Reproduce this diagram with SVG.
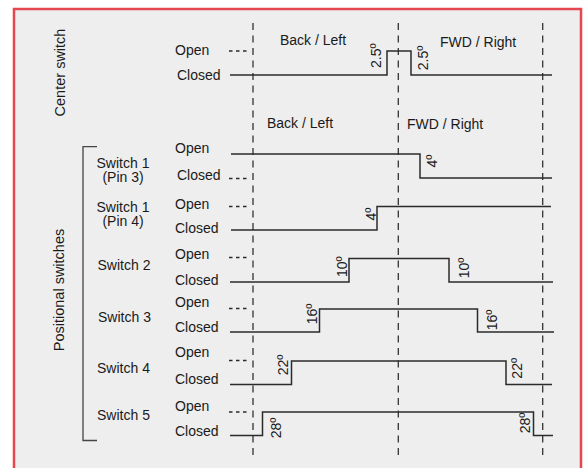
<svg xmlns="http://www.w3.org/2000/svg" width="584" height="468" viewBox="0 0 584 468">
<style>
text{font-family:"Liberation Sans",Arial,Helvetica,sans-serif;font-size:14px;fill:#1a1a1a}
.rot{text-anchor:middle}
.big{font-size:14.5px}
.sig{fill:none;stroke:#2b2b2b;stroke-width:1.5}
.short{fill:none;stroke:#2b2b2b;stroke-width:1.3;stroke-dasharray:3.5 3.5}
.guide{fill:none;stroke:#333;stroke-width:1.3;stroke-dasharray:7 5.5}
.brk{fill:none;stroke:#444;stroke-width:1.3}
</style>
<rect x="0" y="0" width="584" height="468" fill="#ffffff"/>
<rect x="14" y="9" width="567" height="470" fill="#eeeeee" stroke="#e6474e" stroke-width="2.5"/>

<g id="guides">
<line class="guide" x1="253" y1="23" x2="253" y2="456"/>
<line class="guide" x1="398.3" y1="23" x2="398.3" y2="456"/>
<line class="guide" x1="542.7" y1="23" x2="542.7" y2="456"/>
</g>

<g id="headers">
<text x="280" y="44.5">Back / Left</text>
<text x="440" y="46.5">FWD / Right</text>
<text x="267" y="127.5">Back / Left</text>
<text x="407" y="128.7">FWD / Right</text>
</g>

<g id="group-labels">
<text class="rot big" transform="translate(65,72.5) rotate(-90)">Center switch</text>
<text class="rot big" transform="translate(63.5,290) rotate(-90)">Positional switches</text>
<path class="brk" d="M97,146.7 H83 V440.5 H97"/>
</g>

<g id="connectors">
<path class="sig" d="M230,75 H387 V51 H411 V75 H552"/>
<line class="short" x1="229" y1="51" x2="250" y2="51"/>

<path class="sig" d="M231,154 H420 V178 H552"/>
<line class="short" x1="229" y1="178.5" x2="250" y2="178.5"/>

<path class="sig" d="M231,230 H377 V206.5 H551"/>
<line class="short" x1="229" y1="206.5" x2="250" y2="206.5"/>

<path class="sig" d="M230,282 H349 V258.5 H449 V282 H553"/>
<line class="short" x1="229" y1="257.5" x2="250" y2="257.5"/>

<path class="sig" d="M230,332 H319.5 V309 H477.5 V332 H554"/>
<line class="short" x1="229" y1="308.5" x2="250" y2="308.5"/>

<path class="sig" d="M230,384.5 H291.5 V361 H506 V384.5 H552"/>
<line class="short" x1="229" y1="360.5" x2="250" y2="360.5"/>

<path class="sig" d="M230,435.5 H262.5 V412 H533.5 V435.5 H553"/>
<line class="short" x1="229" y1="412" x2="250" y2="412"/>
</g>

<g id="center-switch">
<text x="175" y="55.3">Open</text>
<text x="177" y="79.8">Closed</text>
<text class="rot" transform="translate(381,55.7) rotate(-90)">2.5º</text>
<text class="rot" transform="translate(427.5,58) rotate(-90)">2.5º</text>
</g>

<g id="switch1-pin3">
<text x="123" y="167.5" text-anchor="middle">Switch 1</text>
<text x="123" y="182" text-anchor="middle">(Pin 3)</text>
<text x="175" y="153">Open</text>
<text x="177" y="180">Closed</text>
<text class="rot" transform="translate(437,161) rotate(-90)">4º</text>
</g>

<g id="switch1-pin4">
<text x="123" y="211.5" text-anchor="middle">Switch 1</text>
<text x="123" y="226" text-anchor="middle">(Pin 4)</text>
<text x="175" y="208.6">Open</text>
<text x="175" y="233">Closed</text>
<text class="rot" transform="translate(375.5,214) rotate(-90)">4º</text>
</g>

<g id="switch2">
<text x="124" y="269.5" text-anchor="middle">Switch 2</text>
<text x="175" y="258.6">Open</text>
<text x="175" y="285">Closed</text>
<text class="rot" transform="translate(347,266.7) rotate(-90)">10º</text>
<text class="rot" transform="translate(468.5,268) rotate(-90)">10º</text>
</g>

<g id="switch3">
<text x="124.5" y="321.5" text-anchor="middle">Switch 3</text>
<text x="175" y="307">Open</text>
<text x="175" y="332">Closed</text>
<text class="rot" transform="translate(316.5,314) rotate(-90)">16º</text>
<text class="rot" transform="translate(496.5,320) rotate(-90)">16º</text>
</g>

<g id="switch4">
<text x="123.5" y="373" text-anchor="middle">Switch 4</text>
<text x="175" y="357">Open</text>
<text x="175" y="384">Closed</text>
<text class="rot" transform="translate(287.5,365) rotate(-90)">22º</text>
<text class="rot" transform="translate(522,368.3) rotate(-90)">22º</text>
</g>

<g id="switch5">
<text x="123.5" y="420" text-anchor="middle">Switch 5</text>
<text x="175" y="411">Open</text>
<text x="175" y="436">Closed</text>
<text class="rot" transform="translate(281,428) rotate(-90)">28º</text>
<text class="rot" transform="translate(530,423) rotate(-90)">28º</text>
</g>
</svg>
